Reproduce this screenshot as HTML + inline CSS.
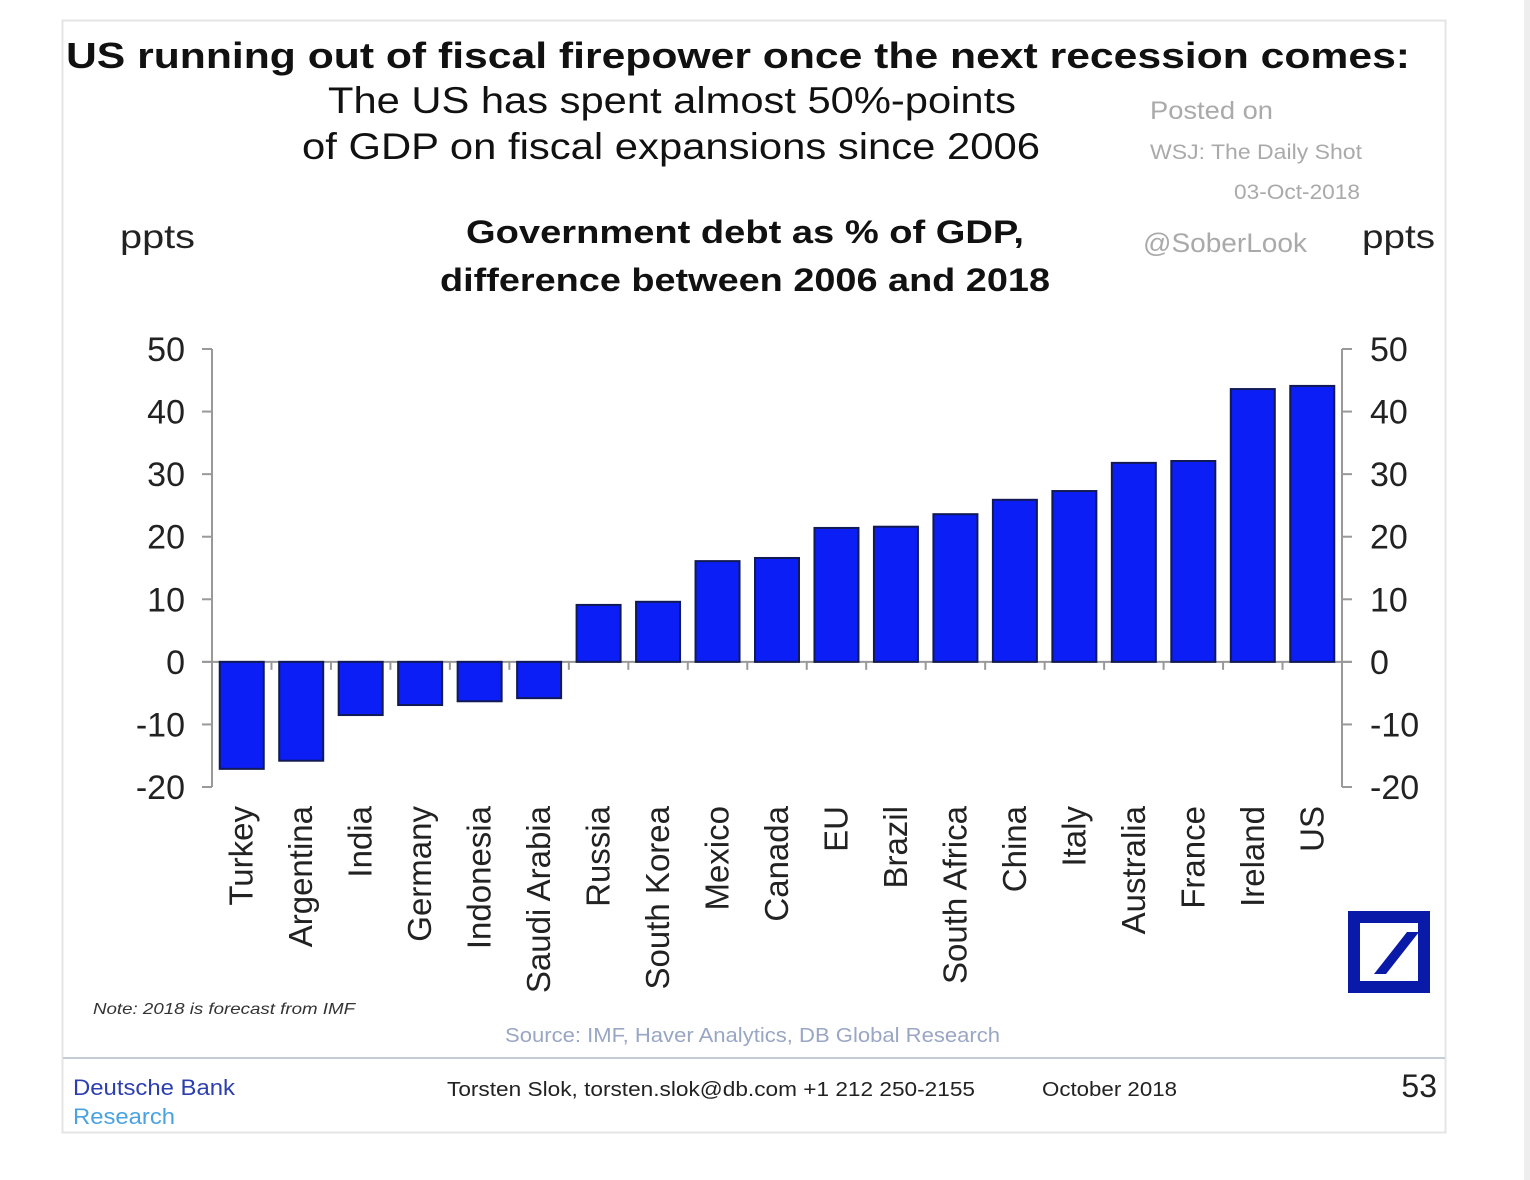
<!DOCTYPE html>
<html><head><meta charset="utf-8">
<style>
html,body{margin:0;padding:0;background:#fff;}
body{width:1530px;height:1180px;position:relative;overflow:hidden;font-family:"Liberation Sans",sans-serif;}
svg{position:absolute;left:0;top:0;}
</style></head>
<body>
<svg id="chart" width="1530" height="1180" viewBox="0 0 1530 1180" font-family="Liberation Sans, sans-serif">
<rect x="1524" y="0" width="6" height="1180" fill="#eeeeee"/>
<rect x="62.5" y="20.5" width="1383" height="1112" fill="#fff" stroke="#e4e4e4" stroke-width="2"/>
<text x="66" y="68" textLength="1344" lengthAdjust="spacingAndGlyphs" font-size="36" font-weight="bold" fill="#111">US running out of fiscal firepower once the next recession comes:</text>
<text x="328" y="113" textLength="688" lengthAdjust="spacingAndGlyphs" font-size="37" fill="#111">The US has spent almost 50%-points</text>
<text x="302" y="159" textLength="738" lengthAdjust="spacingAndGlyphs" font-size="37" fill="#111">of GDP on fiscal expansions since 2006</text>
<text x="1150" y="119" textLength="123" lengthAdjust="spacingAndGlyphs" font-size="25" fill="#aaa">Posted on</text>
<text x="1150" y="159" textLength="212" lengthAdjust="spacingAndGlyphs" font-size="21" fill="#aaa">WSJ: The Daily Shot</text>
<text x="1234" y="199" textLength="126" lengthAdjust="spacingAndGlyphs" font-size="21" fill="#aaa">03-Oct-2018</text>
<text x="1143" y="252" textLength="164" lengthAdjust="spacingAndGlyphs" font-size="27" fill="#aaa">@SoberLook</text>
<text x="120" y="248" textLength="75" lengthAdjust="spacingAndGlyphs" font-size="33" fill="#222">ppts</text>
<text x="1362" y="248" textLength="73" lengthAdjust="spacingAndGlyphs" font-size="33" fill="#222">ppts</text>
<text x="466" y="243" textLength="558" lengthAdjust="spacingAndGlyphs" font-size="32" font-weight="bold" fill="#111">Government debt as % of GDP,</text>
<text x="440" y="291" textLength="610" lengthAdjust="spacingAndGlyphs" font-size="32" font-weight="bold" fill="#111">difference between 2006 and 2018</text>
<g id="plot"></g>
<text x="93" y="1014" textLength="262" lengthAdjust="spacingAndGlyphs" font-size="16" font-style="italic" fill="#333">Note: 2018 is forecast from IMF</text>
<text x="505" y="1042" textLength="495" lengthAdjust="spacingAndGlyphs" font-size="20" fill="#99a6c4">Source: IMF, Haver Analytics, DB Global Research</text>
<line x1="63" y1="1058" x2="1445" y2="1058" stroke="#c6ccd6" stroke-width="2"/>
<text x="73" y="1095" textLength="162" lengthAdjust="spacingAndGlyphs" font-size="22" fill="#2d3fb0">Deutsche Bank</text>
<text x="73" y="1124" textLength="102" lengthAdjust="spacingAndGlyphs" font-size="22" fill="#4aa3e0">Research</text>
<text x="447" y="1096" textLength="528" lengthAdjust="spacingAndGlyphs" font-size="20" fill="#222">Torsten Slok, torsten.slok@db.com  +1 212 250-2155</text>
<text x="1042" y="1096" textLength="135" lengthAdjust="spacingAndGlyphs" font-size="20" fill="#222">October 2018</text>
<text x="1437" y="1097" text-anchor="end" font-size="32" fill="#222">53</text>
<g>
<rect x="1354" y="917" width="70" height="70" fill="none" stroke="#0a1aa8" stroke-width="12"/>
<polygon points="1407,932 1419,932 1386,974 1374,974" fill="#0a1aa8"/>
</g>
</svg>
<script>
const categories=["Turkey","Argentina","India","Germany","Indonesia","Saudi Arabia","Russia","South Korea","Mexico","Canada","EU","Brazil","South Africa","China","Italy","Australia","France","Ireland","US"];
const values=[-17.1,-15.8,-8.5,-6.9,-6.3,-5.8,9.1,9.6,16.1,16.6,21.4,21.6,23.6,25.9,27.3,31.8,32.1,43.6,44.1];
const yTicks=[50,40,30,20,10,0,-10,-20];
const NS="http://www.w3.org/2000/svg";
const g=document.getElementById('plot');
const X0=212,X1=1342,Y0=349,Y1=787,VMAX=50,VMIN=-20;
function y(v){return Y0+(VMAX-v)*(Y1-Y0)/(VMAX-VMIN);}
const step=(X1-X0)/categories.length;
function xc(i){return X0+step*(i+0.5);}
function mk(t,a){const e=document.createElementNS(NS,t);for(const k in a)e.setAttribute(k,a[k]);g.appendChild(e);return e;}
let e;
e=mk('line',{x1:X0,y1:Y0,x2:X0,y2:Y1,stroke:'#999','stroke-width':2});


e=mk('line',{x1:X1,y1:Y0,x2:X1,y2:Y1,stroke:'#999','stroke-width':2});


e=mk('line',{x1:X0-10,y1:y(0),x2:X1+10,y2:y(0),stroke:'#999','stroke-width':2});


yTicks.forEach(v=>{
  const yy=y(v);
  e=mk('line',{x1:X0-10,y1:yy,x2:X0,y2:yy,stroke:'#999','stroke-width':2});
  
  
  e=mk('line',{x1:X1,y1:yy,x2:X1+10,y2:yy,stroke:'#999','stroke-width':2});
  
  
  e=mk('text',{x:185,y:yy+12,'text-anchor':'end','font-size':34,fill:'#222'});
  e.textContent=v;
  
  
  e=mk('text',{x:1370,y:yy+12,'font-size':34,fill:'#222'});
  e.textContent=v;
  
  
});
for(let i=1;i<categories.length;i++){
  const xx=X0+step*i;
  e=mk('line',{x1:xx,y1:y(0),x2:xx,y2:y(0)+8,stroke:'#999','stroke-width':2});
  
  
}
const bw=44;
categories.forEach((c,i)=>{
  const v=values[i];
  const top=Math.min(y(v),y(0)),h=Math.abs(y(v)-y(0));
  e=mk('rect',{x:xc(i)-bw/2,y:top,width:bw,height:h,fill:'#0a1ef5',stroke:'#111a55','stroke-width':2});
  
  
  const tx=xc(i)+11,ty=806;
  e=mk('text',{x:tx,y:ty,'text-anchor':'end','font-size':33,fill:'#222',transform:'rotate(-90 '+tx+' '+ty+')'});
  e.textContent=c;
  
  
});
</script>
</body></html>
